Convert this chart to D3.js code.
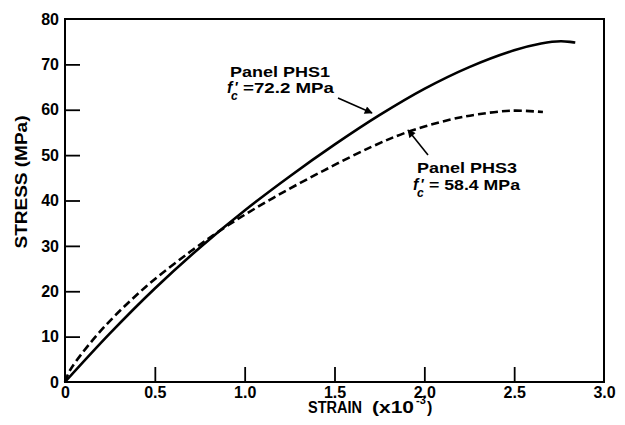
<!DOCTYPE html>
<html>
<head>
<meta charset="utf-8">
<script src="https://cdn.jsdelivr.net/npm/d3@7/dist/d3.min.js"></script>
<style>
  body { margin: 0; background: #fff; }
  text { font-family: "Liberation Sans", Arial, Helvetica, sans-serif; font-weight: bold; fill: #000; }
</style>
</head>
<body>
<svg width="625" height="425"></svg>
<script>
// strain (x10^-3) vs stress (MPa)
var phs1Strain = [0, 0.25, 0.5, 0.75, 1.0, 1.25, 1.5, 1.75, 2.0, 2.25, 2.5, 2.65, 2.76, 2.84];
var phs1Stress = [0, 10.7, 20.6, 29.6, 37.8, 45.3, 52.3, 58.8, 64.6, 69.4, 73.1, 74.6, 75.1, 74.8];

var phs3Strain = [0, 0.02, 0.06, 0.22, 0.45, 0.7, 0.91, 1.16, 1.44, 1.71, 1.9, 2.14, 2.3, 2.49, 2.66];
var phs3Stress = [0, 2.0, 4.5, 12.2, 21.0, 28.8, 34.6, 40.6, 46.6, 51.9, 55.0, 57.8, 59.0, 59.8, 59.5];

var xTicks = [0, 0.5, 1.0, 1.5, 2.0, 2.5, 3.0];
var yTicks = [0, 10, 20, 30, 40, 50, 60, 70, 80];

var svg = d3.select('svg');

var x = d3.scaleLinear().domain([0, 3]).range([65, 604]);
var y = d3.scaleLinear().domain([0, 80]).range([382, 19]);

// arrowhead
svg.append('defs').append('marker')
    .attr('id', 'head')
    .attr('viewBox', '0 0 10 10')
    .attr('refX', 9).attr('refY', 5)
    .attr('markerWidth', 9).attr('markerHeight', 8)
    .attr('markerUnits', 'userSpaceOnUse')
    .attr('orient', 'auto')
  .append('path')
    .attr('d', 'M0,0 L10,5 L0,10 z')
    .attr('fill', '#000');

// axes (ticks point inward)
var xAxis = svg.append('g')
    .attr('transform', 'translate(0,382)')
    .call(d3.axisBottom(x)
      .tickValues(xTicks)
      .tickSizeInner(-15).tickSizeOuter(0).tickPadding(5)
      .tickFormat(function (d) { return d === 0 ? '0' : d3.format('.1f')(d); }));

var yAxis = svg.append('g')
    .attr('transform', 'translate(65,0)')
    .call(d3.axisLeft(y)
      .tickValues(yTicks)
      .tickSizeInner(-15).tickSizeOuter(0).tickPadding(6));

[xAxis, yAxis].forEach(function (a) {
  a.select('.domain').remove();
  a.selectAll('.tick line').attr('stroke', '#000').attr('stroke-width', 1.8);
  a.selectAll('.tick text')
    .style('font-size', '16px')
    .attr('fill', '#000');
});
xAxis.selectAll('.tick line').filter(function (d) { return d === 0 || d === 3; }).remove();
yAxis.selectAll('.tick line').filter(function (d) { return d === 0 || d === 80; }).remove();

// frame
svg.append('rect')
    .attr('x', x(0)).attr('y', y(80))
    .attr('width', x(3) - x(0)).attr('height', y(0) - y(80))
    .attr('fill', 'none')
    .attr('stroke', '#000')
    .attr('stroke-width', 2);

// curves
var line = d3.line()
    .x(function (d) { return x(d[0]); })
    .y(function (d) { return y(d[1]); })
    .curve(d3.curveCatmullRom.alpha(0.5));

svg.append('path')
    .datum(d3.zip(phs1Strain, phs1Stress))
    .attr('d', line)
    .attr('fill', 'none')
    .attr('stroke', '#000')
    .attr('stroke-width', 2.6);

svg.append('path')
    .datum(d3.zip(phs3Strain, phs3Stress))
    .attr('d', line)
    .attr('fill', 'none')
    .attr('stroke', '#000')
    .attr('stroke-width', 2.6)
    .attr('stroke-dasharray', '8,4');

// axis titles
svg.append('text')
    .attr('transform', 'translate(27,182) rotate(-90)')
    .attr('text-anchor', 'middle')
    .attr('textLength', 133)
    .attr('lengthAdjust', 'spacingAndGlyphs')
    .style('font-size', '16px')
    .text('STRESS  (MPa)');

function word(px, py, size, len, str) {
  var t = svg.append('text')
      .attr('x', px).attr('y', py)
      .style('font-size', size + 'px')
      .text(str);
  if (len) t.attr('textLength', len).attr('lengthAdjust', 'spacingAndGlyphs');
  return t;
}

word(308, 413, 16, 54, 'STRAIN');
word(372, 413, 16, 42, '(x10');
word(416, 404, 11, 0, '-3');
word(427, 413, 16, 0, ')');

// annotations
function fcLabel(px, py, value) {
  word(px, py, 16, 0, 'f').style('font-style', 'italic');
  word(px + 8, py - 1, 14, 0, '\u2032');
  word(px + 4, py + 7, 12, 0, 'c').style('font-style', 'italic');
  word(px + 16, py, 15, 91, value);
}

word(230, 77, 15, 100, 'Panel PHS1');
fcLabel(227, 93, '=72.2 MPa');

word(417, 173, 15, 100, 'Panel PHS3');
fcLabel(413, 190, '= 58.4 MPa');

// arrows
svg.append('line')
    .attr('x1', 338).attr('y1', 98).attr('x2', 372).attr('y2', 113)
    .attr('stroke', '#000').attr('stroke-width', 1.6)
    .attr('marker-end', 'url(#head)');

svg.append('line')
    .attr('x1', 428).attr('y1', 155).attr('x2', 408).attr('y2', 130)
    .attr('stroke', '#000').attr('stroke-width', 1.6)
    .attr('marker-end', 'url(#head)');
</script>
</body>
</html>
